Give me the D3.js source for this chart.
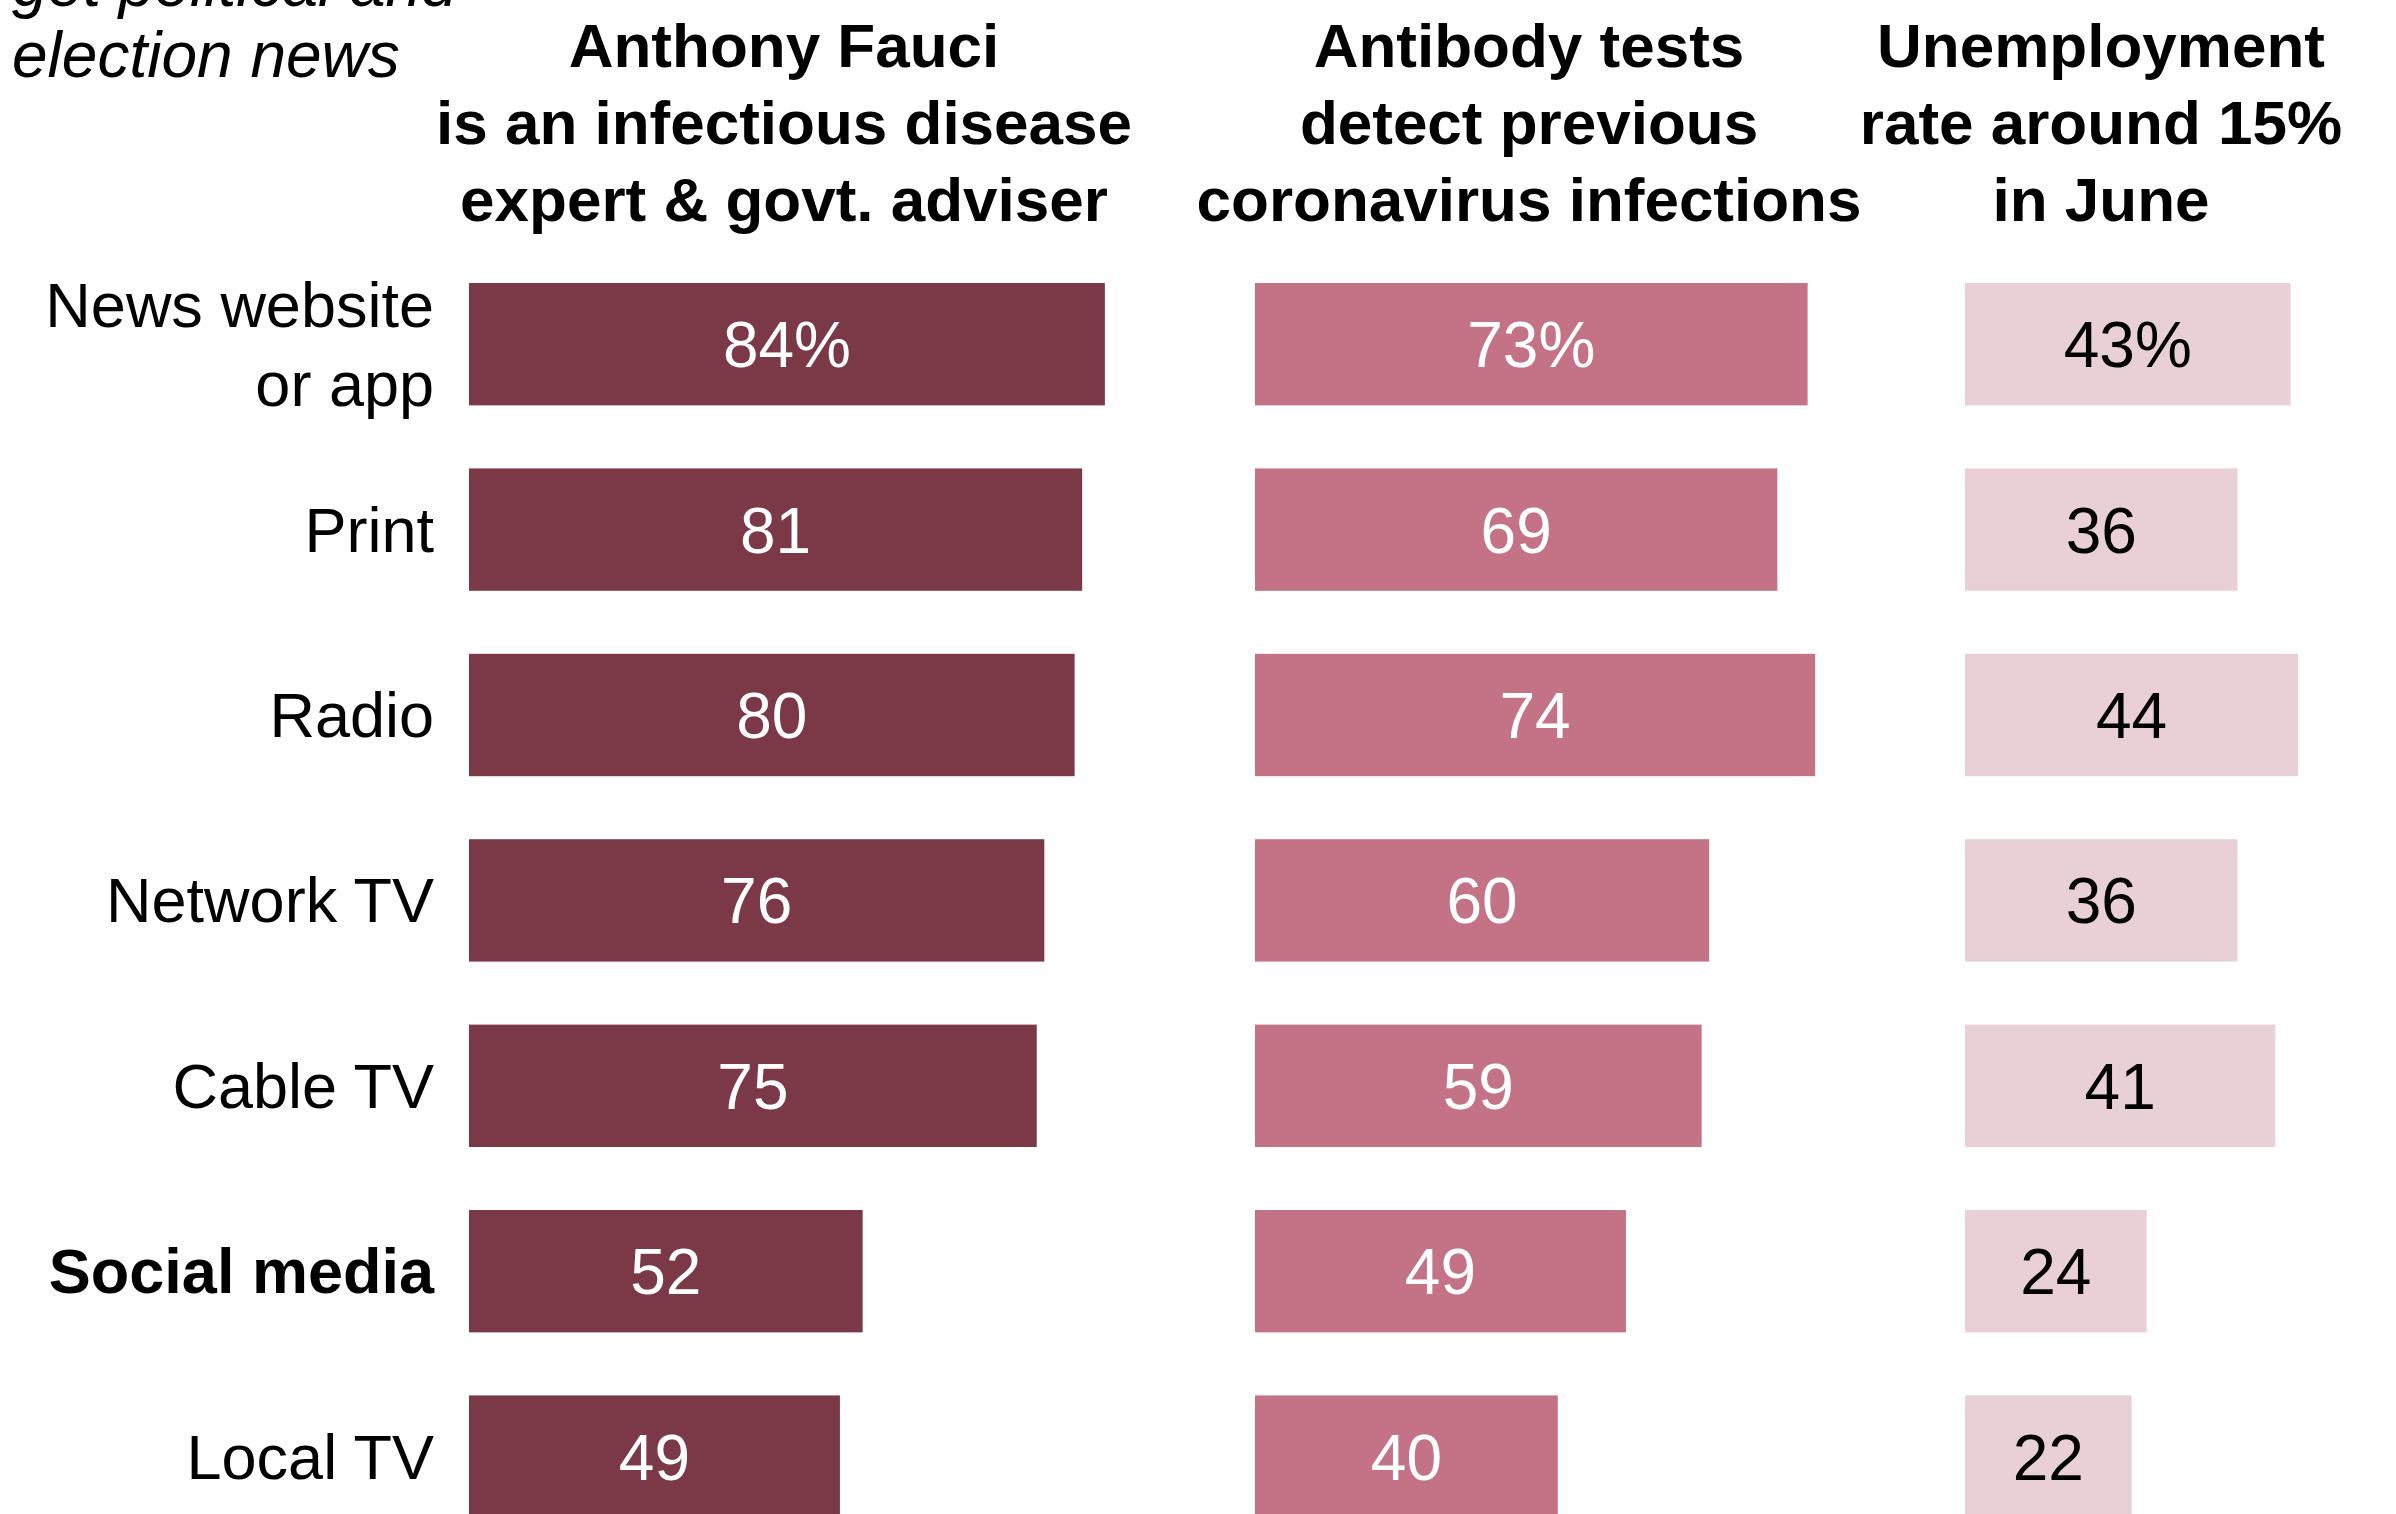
<!DOCTYPE html>
<html>
<head>
<meta charset="utf-8">
<script src="https://cdn.jsdelivr.net/npm/d3@7"></script>
<style>
  html, body { margin: 0; padding: 0; background: #fff; }
  svg { display: block; }
  text { font-family: "Liberation Sans", Arial, sans-serif; }
</style>
</head>
<body>
<div id="chart"></div>
<script>
// ---- Data ----
const categories = ["News website\nor app", "Print", "Radio", "Network TV", "Cable TV", "Social media", "Local TV"];
const boldCategories = ["Social media"];
const fauci = [84, 81, 80, 76, 75, 52, 49];
const antibody = [73, 69, 74, 60, 59, 49, 40];
const unemployment = [43, 36, 44, 36, 41, 24, 22];
const seriesTitles = [
  ["Anthony Fauci", "is an infectious disease", "expert & govt. adviser"],
  ["Antibody tests", "detect previous", "coronavirus infections"],
  ["Unemployment", "rate around 15%", "in June"]
];
const introLines = ["get political and", "election news"];

// ---- Layout ----
const W = 2396, H = 1514;
const series = [
  { values: fauci, title: seriesTitles[0], x0: 469, cx: 784, fill: "#7b3846", text: "#ffffff" },
  { values: antibody, title: seriesTitles[1], x0: 1255, cx: 1529, fill: "#c37385", text: "#ffffff" },
  { values: unemployment, title: seriesTitles[2], x0: 1965, cx: 2101, fill: "#e9d0d6", text: "#000000" }
];

const svg = d3.select("#chart").append("svg")
  .attr("width", W).attr("height", H)
  .attr("viewBox", `0 0 ${W} ${H}`);

svg.append("rect").attr("width", W).attr("height", H).attr("fill", "#fff");

const step = 185.4;
const y = d3.scaleBand()
  .domain(categories)
  .range([251.5, 251.5 + step * categories.length])
  .paddingInner(0.34)
  .paddingOuter(0.17);

const x = d3.scaleLinear().domain([0, 100]).range([0, 757]);

// intro text (italic)
svg.append("g").selectAll("text")
  .data(introLines)
  .join("text")
  .attr("x", 12)
  .attr("y", (d, i) => 6 + i * 71)
  .attr("font-size", 64)
  .attr("font-style", "italic")
  .attr("fill", "#000")
  .text(d => d);

// category labels
const labels = svg.append("g").selectAll("text")
  .data(categories)
  .join("text")
  .attr("x", 434)
  .attr("text-anchor", "end")
  .attr("font-size", 63)
  .attr("font-weight", d => boldCategories.includes(d) ? "bold" : "normal")
  .attr("fill", "#000");

labels.each(function(d) {
  const lines = d.split("\n");
  const cy = y(d) + y.bandwidth() / 2;
  const lh = 79;
  const first = cy + 22 - (lines.length - 1) * lh / 2;
  d3.select(this).selectAll("tspan")
    .data(lines)
    .join("tspan")
    .attr("x", 434)
    .attr("y", (l, i) => first + i * lh)
    .text(l => l);
});

// series
series.forEach((s, si) => {
  const g = svg.append("g");

  g.selectAll("text.title")
    .data(s.title)
    .join("text")
    .attr("class", "title")
    .attr("x", s.cx)
    .attr("y", (d, i) => 67 + i * 77)
    .attr("text-anchor", "middle")
    .attr("font-size", 62)
    .attr("font-weight", "bold")
    .attr("fill", "#000")
    .text(d => d);

  const rows = categories.map((c, i) => ({ c, v: s.values[i], i }));

  g.selectAll("rect")
    .data(rows)
    .join("rect")
    .attr("x", s.x0)
    .attr("y", d => y(d.c))
    .attr("width", d => x(d.v))
    .attr("height", y.bandwidth())
    .attr("fill", s.fill);

  g.selectAll("text.val")
    .data(rows)
    .join("text")
    .attr("class", "val")
    .attr("x", d => s.x0 + x(d.v) / 2)
    .attr("y", d => y(d.c) + y.bandwidth() / 2 + 23)
    .attr("text-anchor", "middle")
    .attr("font-size", 64)
    .attr("fill", s.text)
    .text(d => d.i === 0 ? d.v + "%" : d.v);
});
</script>
</body>
</html>
